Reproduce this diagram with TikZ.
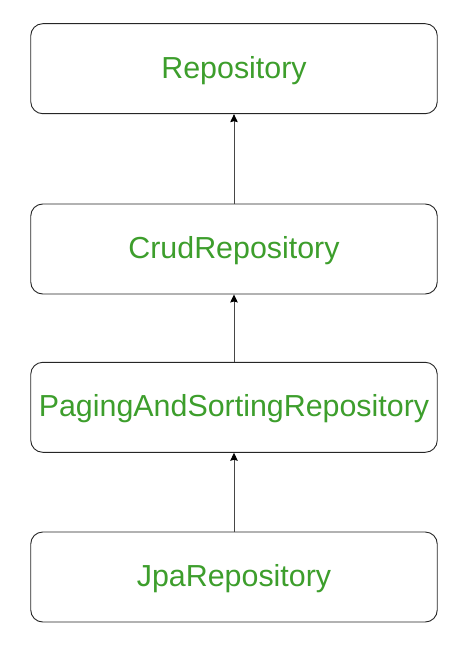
\documentclass[tikz,border=0pt]{standalone}
\usepackage{fontspec}
\setmainfont{Liberation Sans}
\usetikzlibrary{arrows.meta}
\definecolor{txtgreen}{RGB}{61,158,44}
\definecolor{linegray}{RGB}{70,70,70}
\begin{document}
\begin{tikzpicture}[x=1pt,y=-1pt,
  repobox/.style={draw=black!85, line width=0.9pt, rounded corners=12pt,
    minimum width=406.5pt, minimum height=90pt, inner sep=0pt,
    text height=19pt, text depth=0pt,
    text=txtgreen, font=\fontsize{30.4pt}{36pt}\selectfont},
  inherit/.style={draw=linegray, line width=0.9pt,
    -{Stealth[length=8pt,width=7.5pt,inset=1pt,fill=black,color=black]}}]
\useasboundingbox (0,0) rectangle (456,650);
\node[repobox] (repo) at (234,68.7) {Repository};
\node[repobox] (crud) at (234,249) {CrudRepository};
\node[repobox] (paging) at (234,407.3) {PagingAndSortingRepository};
\node[repobox] (jpa) at (234,577) {JpaRepository};
\draw[inherit] (crud) -- (repo);
\draw[inherit] (paging) -- (crud);
\draw[inherit] (jpa) -- (paging);
\end{tikzpicture}
\end{document}
